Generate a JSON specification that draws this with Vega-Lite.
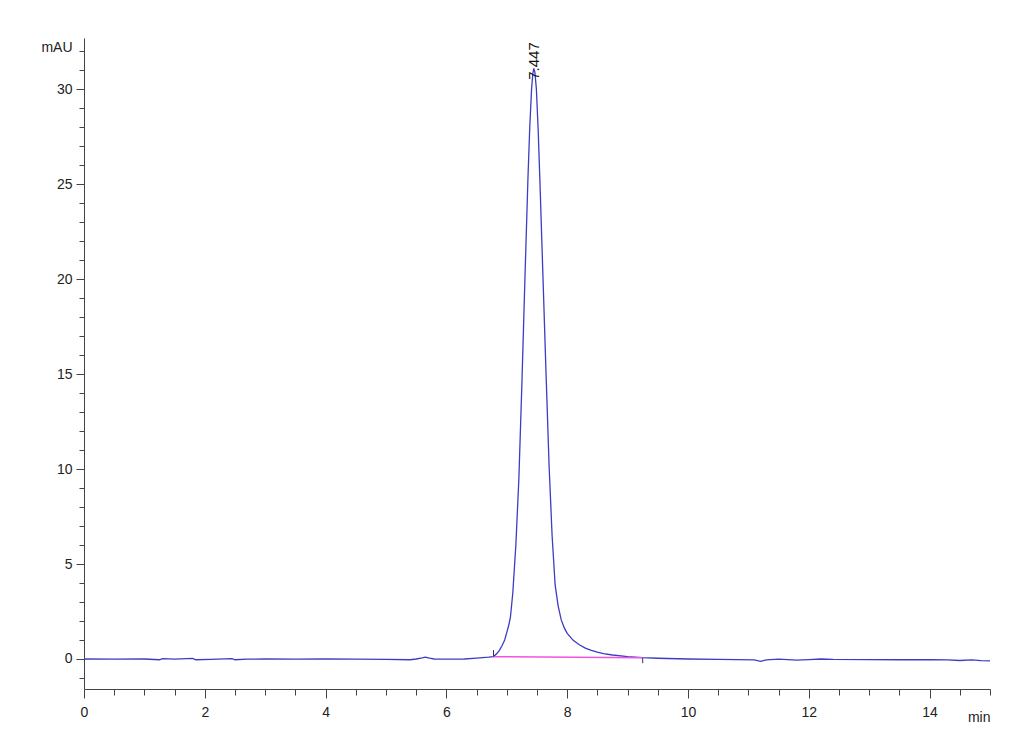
{
  "$schema": "https://vega.github.io/schema/vega-lite/v6.json",
  "width": 906,
  "height": 651,
  "autosize": {"type": "none"},
  "padding": {"left": 84, "top": 38, "right": 40, "bottom": 66},
  "background": "white",
  "config": {"view": {"stroke": null}, "font": "Liberation Sans"},
  "datasets": {
    "trace": [
      {"t": 0.0, "v": 0.0},
      {"t": 0.5, "v": -0.01},
      {"t": 1.0, "v": 0.0},
      {"t": 1.25, "v": -0.04},
      {"t": 1.3, "v": 0.02},
      {"t": 1.5, "v": -0.01},
      {"t": 1.8, "v": 0.03},
      {"t": 1.85, "v": -0.04},
      {"t": 2.1, "v": -0.02},
      {"t": 2.45, "v": 0.02},
      {"t": 2.5, "v": -0.04},
      {"t": 2.7, "v": -0.01},
      {"t": 3.0, "v": 0.0},
      {"t": 3.5, "v": -0.01},
      {"t": 4.0, "v": 0.0},
      {"t": 4.5, "v": -0.01},
      {"t": 5.0, "v": -0.02},
      {"t": 5.4, "v": -0.04},
      {"t": 5.5, "v": 0.0},
      {"t": 5.6, "v": 0.06},
      {"t": 5.65, "v": 0.1},
      {"t": 5.72, "v": 0.05},
      {"t": 5.8, "v": 0.0},
      {"t": 6.0, "v": -0.01},
      {"t": 6.3, "v": 0.0},
      {"t": 6.5, "v": 0.05},
      {"t": 6.7, "v": 0.1},
      {"t": 6.78, "v": 0.13},
      {"t": 6.84, "v": 0.3},
      {"t": 6.88, "v": 0.47},
      {"t": 6.92, "v": 0.7},
      {"t": 6.965, "v": 1.0},
      {"t": 7.0, "v": 1.4},
      {"t": 7.03, "v": 1.75},
      {"t": 7.06, "v": 2.2},
      {"t": 7.1, "v": 3.5},
      {"t": 7.15, "v": 6.0},
      {"t": 7.2, "v": 9.5},
      {"t": 7.25, "v": 14.5},
      {"t": 7.3, "v": 20.0},
      {"t": 7.35, "v": 25.3},
      {"t": 7.38, "v": 28.0},
      {"t": 7.41, "v": 30.0},
      {"t": 7.43, "v": 30.8},
      {"t": 7.447, "v": 31.1},
      {"t": 7.465, "v": 30.9},
      {"t": 7.49, "v": 30.0},
      {"t": 7.52, "v": 27.8},
      {"t": 7.55, "v": 25.0},
      {"t": 7.6, "v": 20.0},
      {"t": 7.65, "v": 15.0},
      {"t": 7.7, "v": 10.2},
      {"t": 7.75, "v": 6.5},
      {"t": 7.8, "v": 3.9},
      {"t": 7.85, "v": 2.8},
      {"t": 7.9, "v": 2.07},
      {"t": 7.95, "v": 1.65},
      {"t": 8.0, "v": 1.35},
      {"t": 8.1, "v": 0.98},
      {"t": 8.2, "v": 0.75},
      {"t": 8.3, "v": 0.57},
      {"t": 8.4, "v": 0.45},
      {"t": 8.5, "v": 0.36},
      {"t": 8.6, "v": 0.28},
      {"t": 8.75, "v": 0.21},
      {"t": 9.0, "v": 0.12},
      {"t": 9.25, "v": 0.07},
      {"t": 9.5, "v": 0.04},
      {"t": 10.0, "v": 0.0},
      {"t": 10.5, "v": -0.02},
      {"t": 10.8, "v": -0.03},
      {"t": 11.1, "v": -0.05},
      {"t": 11.2, "v": -0.12},
      {"t": 11.3, "v": -0.05},
      {"t": 11.5, "v": -0.01},
      {"t": 11.8, "v": -0.06},
      {"t": 12.0, "v": -0.03},
      {"t": 12.2, "v": 0.0},
      {"t": 12.4, "v": -0.02},
      {"t": 13.0, "v": -0.03},
      {"t": 13.5, "v": -0.04},
      {"t": 14.0, "v": -0.04},
      {"t": 14.3, "v": -0.05},
      {"t": 14.5, "v": -0.08},
      {"t": 14.7, "v": -0.05},
      {"t": 14.85, "v": -0.09},
      {"t": 15.0, "v": -0.1}
    ],
    "baseline": [
      {"t": 6.78, "v": 0.12},
      {"t": 9.25, "v": 0.06}
    ],
    "marks": [
      {"t": 6.78, "lo": 0.12, "hi": 0.47},
      {"t": 9.25, "lo": -0.22, "hi": 0.06}
    ],
    "peak": [
      {"t": 7.447, "v": 30.5, "label": "7.447"}
    ]
  },
  "layer": [
    {
      "data": {"name": "trace"},
      "mark": {"type": "line", "color": "#3c3cc4", "strokeWidth": 1.3, "clip": true},
      "encoding": {
        "x": {
          "field": "t", "type": "quantitative",
          "scale": {"domain": [0, 15], "nice": false, "zero": false},
          "axis": {
            "title": "min",
            "titleFont": "Liberation Sans",
            "titleFontSize": 14,
            "titleFontWeight": "normal",
            "titleColor": "#222",
            "titleAnchor": "end",
            "titleAlign": "right",
            "titleX": 906,
            "titleY": 28,
            "titleBaseline": "middle",
            "tickCount": 200,
            "values": [0,0.5,1,1.5,2,2.5,3,3.5,4,4.5,5,5.5,6,6.5,7,7.5,8,8.5,9,9.5,10,10.5,11,11.5,12,12.5,13,13.5,14,14.5,15],
            "labelExpr": "datum.value % 2 === 0 && datum.value < 15 ? format(datum.value, 'd') : ''",
            "tickSize": {"condition": {"test": "datum.value % 2 === 0", "value": 9}, "value": 6},
            "labelPadding": 7,
            "labelFontSize": 14,
            "labelColor": "#222",
            "labelFlush": false,
            "labelOverlap": false,
            "labelBound": false,
            "grid": false,
            "domainColor": "#444",
            "tickColor": "#444"
          }
        },
        "y": {
          "field": "v", "type": "quantitative",
          "scale": {"domain": [-1.58, 32.7], "nice": false, "zero": false},
          "axis": {
            "title": "mAU",
            "titleFont": "Liberation Sans",
            "titleFontSize": 14,
            "titleFontWeight": "normal",
            "titleColor": "#222",
            "titleAngle": 0,
            "titleAlign": "right",
            "titleBaseline": "middle",
            "titleX": -12,
            "titleY": 9,
            "tickCount": 200,
            "values": [-1,0,1,2,3,4,5,6,7,8,9,10,11,12,13,14,15,16,17,18,19,20,21,22,23,24,25,26,27,28,29,30,31,32],
            "labelExpr": "datum.value % 5 === 0 ? format(datum.value, 'd') : ''",
            "tickSize": {"condition": {"test": "datum.value % 5 === 0", "value": 8}, "value": 5},
            "labelPadding": 4,
            "labelFontSize": 14,
            "labelColor": "#222",
            "labelFlush": false,
            "labelOverlap": false,
            "labelBound": false,
            "grid": false,
            "domainColor": "#444",
            "tickColor": "#444"
          }
        }
      }
    },
    {
      "data": {"name": "baseline"},
      "mark": {"type": "line", "color": "#ee55dd", "strokeWidth": 1.5},
      "encoding": {
        "x": {"field": "t", "type": "quantitative"},
        "y": {"field": "v", "type": "quantitative"}
      }
    },
    {
      "data": {"name": "marks"},
      "mark": {"type": "rule", "color": "#333355", "strokeWidth": 1},
      "encoding": {
        "x": {"field": "t", "type": "quantitative"},
        "y": {"field": "lo", "type": "quantitative"},
        "y2": {"field": "hi"}
      }
    },
    {
      "data": {"name": "peak"},
      "mark": {"type": "text", "angle": 270, "align": "left", "baseline": "middle", "fontSize": 15, "color": "#111", "font": "Liberation Sans"},
      "encoding": {
        "x": {"field": "t", "type": "quantitative"},
        "y": {"field": "v", "type": "quantitative"},
        "text": {"field": "label"}
      }
    }
  ]
}
